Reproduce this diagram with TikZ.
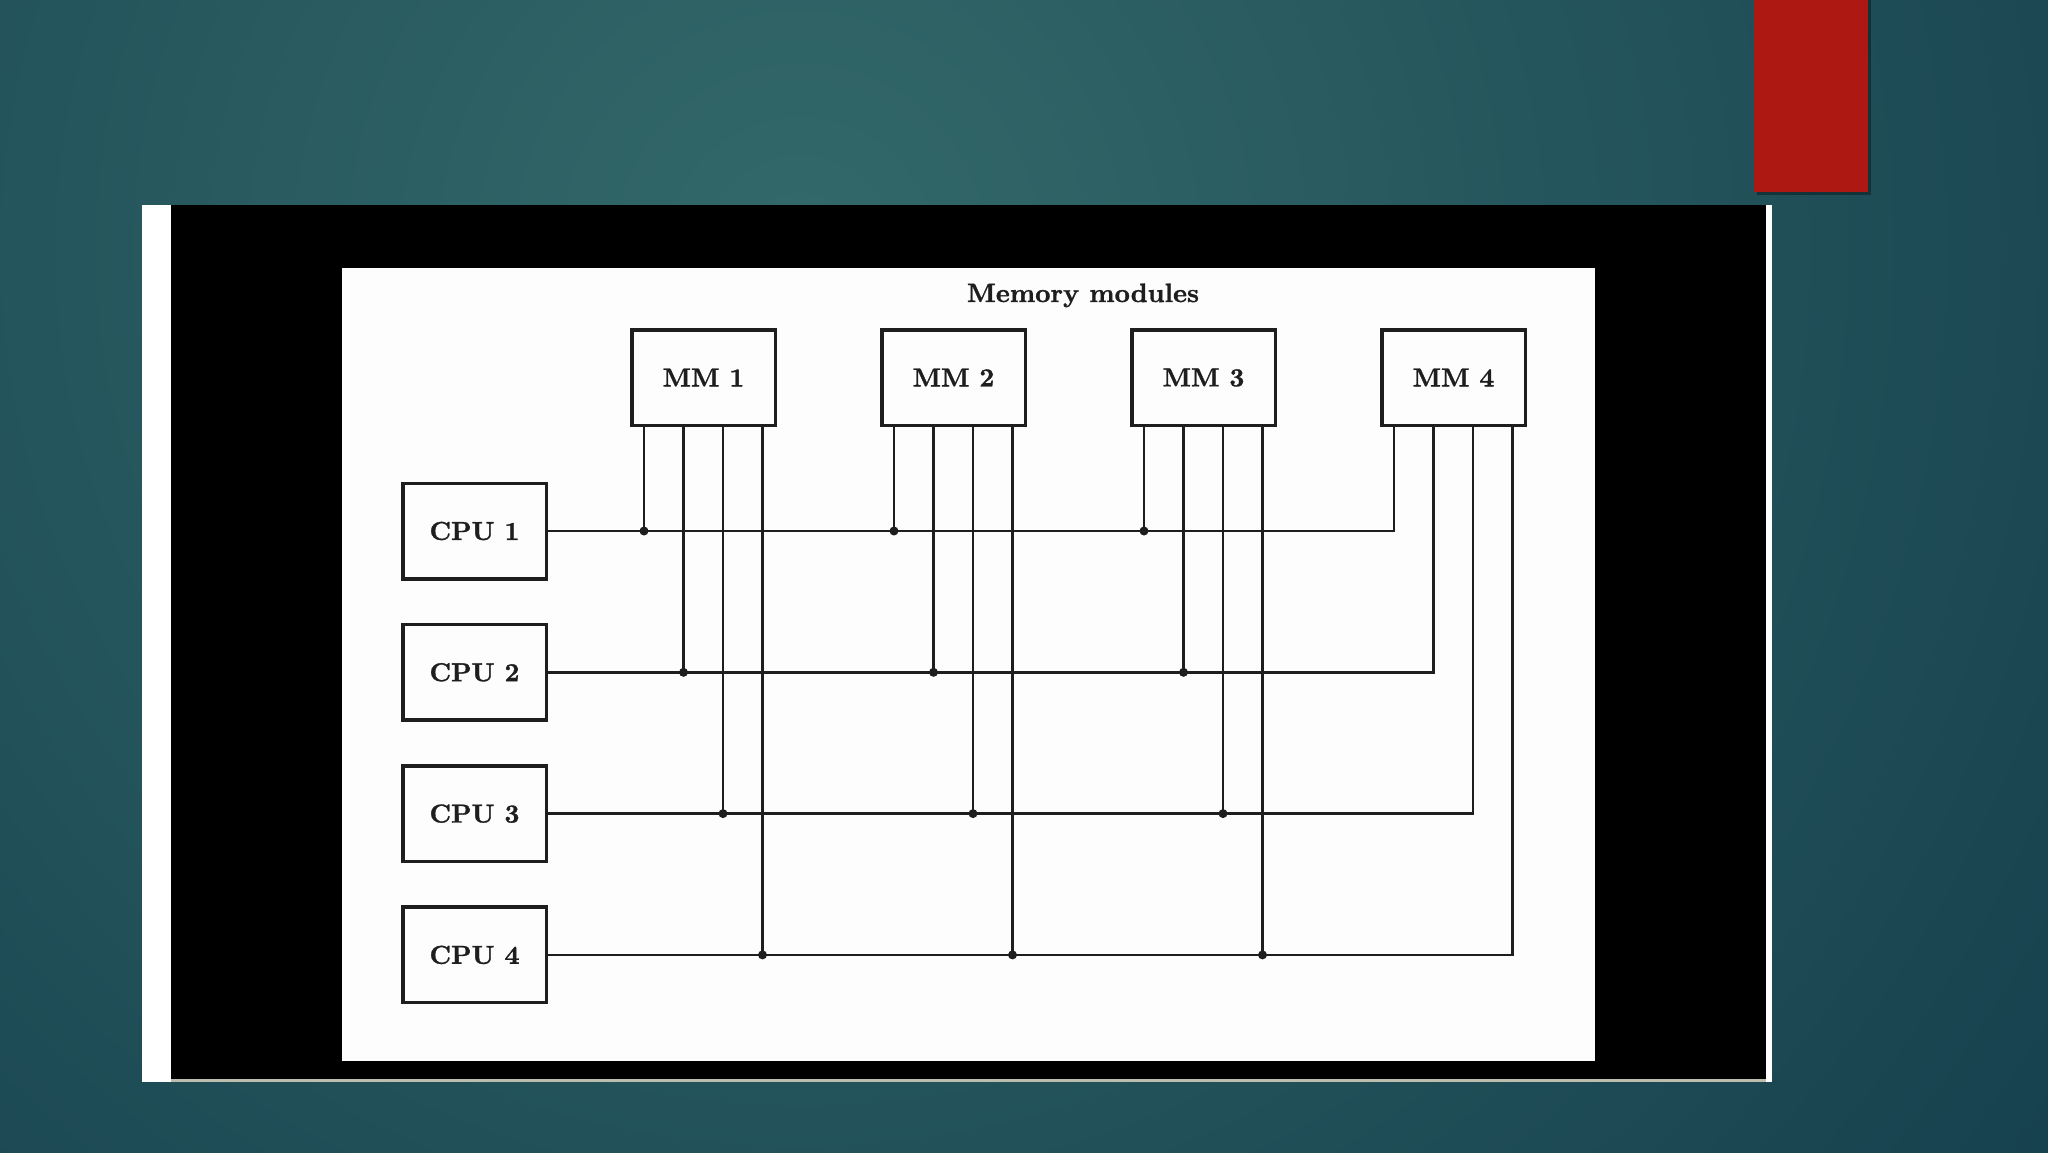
\documentclass[tikz,border=0pt]{standalone}
\usepackage{fontspec}
\usepackage{tikz}
\usetikzlibrary{positioning}
\newfontfamily\modfont{lmroman10-bold.otf}[FakeBold=1.2]
\definecolor{bgin}{HTML}{33696A}
\definecolor{bgout}{HTML}{153F4D}
\definecolor{slidered}{HTML}{AD1812}
\definecolor{ink}{HTML}{1E1E1E}
\definecolor{paper}{HTML}{FDFDFD}
\definecolor{rim}{HTML}{BDBDAE}

\tikzset{
  unitbox/.style={draw=ink, line width=3.5pt, fill=paper, minimum width=143.5pt,
    minimum height=95.5pt, inner sep=0pt, text=ink,
    font=\fontsize{26}{30}\selectfont\modfont},
  titletext/.style={text=ink, font=\fontsize{26.5}{30}\selectfont\modfont},
  bus/.style={draw=ink, line width=2.8pt},
  joint/.style={fill=ink}
}

\begin{document}
\begin{tikzpicture}[x=1pt,y=-1pt]
    % sfondo della slide
    \useasboundingbox (0,0) rectangle (2048,1152);
    \begin{scope}
        \clip (-2,-2) rectangle (2050,1154);
        \fill[bgout] (-2,-2) rectangle (2050,1154);
        \shade[inner color=bgin, outer color=bgout] (800,250) circle (1600);
    \end{scope}

    % rettangolo rosso in alto
    \fill[black, opacity=0.35] (1757,0) rectangle (1871,195);
    \fill[slidered] (1754,0) rectangle (1868,192);

    % cornice dell'immagine
    \fill[white] (142,205) rectangle (1772,1082);
    \fill[rim] (171,1078) rectangle (1766,1082);
    \fill[black] (171,205) rectangle (1766,1079);
    \fill[paper] (342,268) rectangle (1595,1061);

    % moduli di memoria e processori
    \node[titletext, anchor=base] (title) at (1083,302) {Memory modules};
    \foreach \j in {1,...,4}
        \node[unitbox] (mm\j) at ({703.5+250*(\j-1)},377.5) {MM \j};
    \foreach \k in {1,...,4}
        \node[unitbox] (cpu\k) at (474.5,{531+141.3*(\k-1)}) {CPU \k};

    % collegamenti
    \foreach \k in {1,...,4}{
        \pgfmathsetmacro\off{-59.5+39.5*(\k-1)}
        \foreach \j in {1,2,3}{
            \draw[bus] ([xshift=\off pt]mm\j.south) -- ([xshift=\off pt]mm\j.south |- cpu\k.east);
            \fill[joint] ([xshift=\off pt]mm\j.south |- cpu\k.east) circle (4.5);
        }
        \draw[bus] (cpu\k.east) -| ([xshift=\off pt]mm4.south);
    }
\end{tikzpicture}
\end{document}
